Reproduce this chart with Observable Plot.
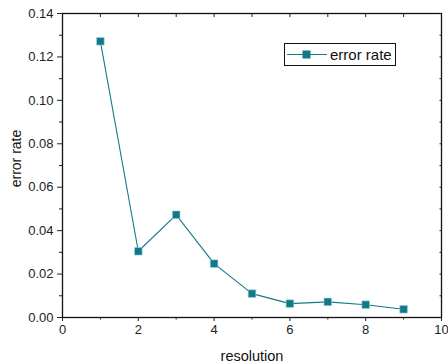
<!DOCTYPE html>
<html>
<head>
<meta charset="utf-8">
<script src="https://cdn.jsdelivr.net/npm/d3@7"></script>
<script src="https://cdn.jsdelivr.net/npm/@observablehq/plot@0.6"></script>
<style>
  body { margin: 0; background: #fff; }
  #wrap { position: relative; width: 448px; height: 364px; font-family: "Liberation Sans", Arial, sans-serif; }
  #legend { position: absolute; left: 284px; top: 43px; }
</style>
</head>
<body>
<div id="wrap"></div>
<script>
const resolution = [1, 2, 3, 4, 5, 6, 7, 8, 9];
const errorRate = [0.1272, 0.0305, 0.0473, 0.0248, 0.0110, 0.0064, 0.0072, 0.0059, 0.0038];
const xMajorTicks = [0, 2, 4, 6, 8, 10];
const xMinorTicks = [1, 3, 5, 7, 9];
const yMajorTicks = [0, 0.02, 0.04, 0.06, 0.08, 0.10, 0.12, 0.14];
const yMinorTicks = [0.01, 0.03, 0.05, 0.07, 0.09, 0.11, 0.13];
const seriesName = "error rate";
const xTitle = "resolution";
const yTitle = "error rate";

const color = "#13798A";
const data = resolution.map((x, i) => ({x, y: errorRate[i]}));
const blank = () => "";

const chart = Plot.plot({
  width: 448,
  height: 364,
  marginLeft: 62,
  marginRight: 7,
  marginTop: 13,
  marginBottom: 47,
  style: {fontFamily: "'Liberation Sans', Arial, sans-serif", fontSize: "13px", color: "#222"},
  x: {domain: [0, 10], axis: null},
  y: {domain: [0, 0.14], axis: null},
  marks: [
    Plot.frame({stroke: "#111", strokeWidth: 1.3}),
    Plot.axisX({ticks: xMajorTicks, tickSize: 4, tickPadding: 3, tickFormat: d3.format("d"), label: null, fontSize: 13}),
    Plot.axisX({ticks: xMinorTicks, tickSize: 2.5, tickFormat: blank, label: null}),
    Plot.axisX({anchor: "top", ticks: d3.range(1, 10), tickSize: -3, tickFormat: blank, label: null}),
    Plot.axisY({ticks: yMajorTicks, tickSize: 5, tickPadding: 4, tickFormat: d3.format(".2f"), label: null, fontSize: 13}),
    Plot.axisY({ticks: yMinorTicks, tickSize: 3, tickFormat: blank, label: null}),
    Plot.axisY({anchor: "right", ticks: yMinorTicks.concat(yMajorTicks), tickSize: -2.5, tickFormat: blank, label: null}),
    Plot.text([xTitle], {frameAnchor: "bottom", dy: 43, fontSize: 14.5, fill: "#111"}),
    Plot.text([yTitle], {frameAnchor: "left", textAnchor: "middle", dx: -46, dy: -7, rotate: -90, fontSize: 14, fill: "#111"}),
    Plot.line(data, {x: "x", y: "y", stroke: color, strokeWidth: 1.1}),
    Plot.dot(data, {x: "x", y: "y", symbol: "square", r: 4.3, fill: color, stroke: "#9fd0d8", strokeWidth: 0.6})
  ]
});
document.getElementById("wrap").appendChild(chart);

// legend
const lg = d3.select("#wrap").append("svg").attr("id", "legend")
  .attr("width", 113).attr("height", 24);
lg.append("rect").attr("x", 0.5).attr("y", 0.5).attr("width", 111).attr("height", 22)
  .attr("fill", "#fff").attr("stroke", "#111").attr("stroke-width", 1);
lg.append("line").attr("x1", 3).attr("x2", 43).attr("y1", 11.5).attr("y2", 11.5)
  .attr("stroke", color).attr("stroke-width", 1.1);
lg.append("rect").attr("x", 18.5).attr("y", 7.5).attr("width", 8).attr("height", 8).attr("fill", color);
lg.append("text").attr("x", 46).attr("y", 16.5).attr("font-size", 15)
  .attr("font-family", "'Liberation Sans', Arial, sans-serif").attr("fill", "#111").text(seriesName);
</script>
</body>
</html>
